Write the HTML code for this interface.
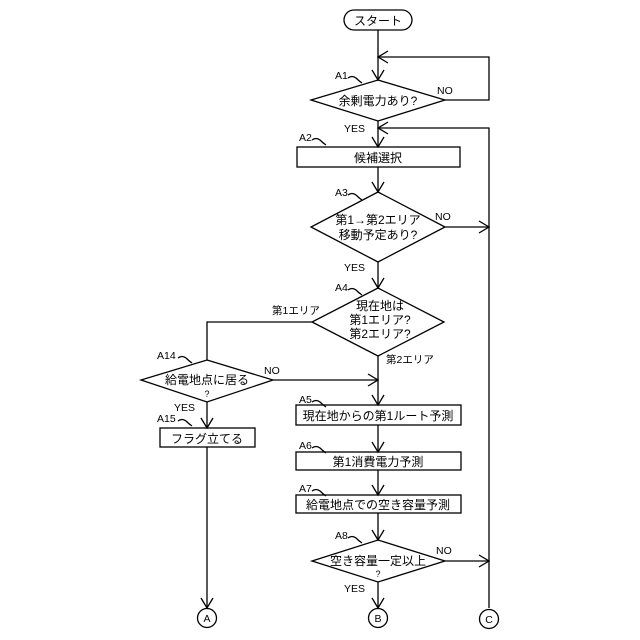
<!DOCTYPE html>
<html><head><meta charset="utf-8"><style>
html,body{margin:0;padding:0;background:#fff;}
svg{display:block;}
text{font-family:"Liberation Sans","Noto Sans CJK JP",sans-serif;fill:#000;}
</style></head><body>
<svg width="640" height="640" viewBox="0 0 640 640" xmlns="http://www.w3.org/2000/svg">
<g fill="none" stroke="#000" stroke-width="1.3">
<!-- start -->
<rect x="344" y="10" width="68" height="20" rx="10" ry="10"/>
<!-- main vertical segments -->
<line x1="378" y1="30" x2="378" y2="80"/>
<polyline points="378,57 489,57 489,100 445,100"/>
<polygon points="378,80 445,100 378,121 311,100"/>
<line x1="378" y1="121" x2="378" y2="147"/>
<polyline points="378,128 489,128 489,608"/>
<rect x="297" y="147" width="163" height="20"/>
<line x1="378" y1="167" x2="378" y2="192"/>
<polygon points="378,192 445,227 378,262 311,227"/>
<line x1="445" y1="227" x2="489" y2="227"/>
<line x1="378" y1="262" x2="378" y2="288"/>
<polygon points="378,288 444,322 378,356 312,322"/>
<polyline points="312,322 207,322 207,360"/>
<line x1="378" y1="356" x2="378" y2="405"/>
<polygon points="207,360 273,380 207,402 141,380"/>
<line x1="273" y1="380" x2="378" y2="380"/>
<line x1="207" y1="402" x2="207" y2="428"/>
<rect x="160" y="428" width="95" height="19"/>
<line x1="207" y1="447" x2="207" y2="608"/>
<rect x="296" y="405" width="165" height="20"/>
<line x1="378" y1="425" x2="378" y2="452"/>
<rect x="296" y="452" width="165" height="18"/>
<line x1="378" y1="470" x2="378" y2="495"/>
<rect x="296" y="495" width="165" height="18"/>
<line x1="378" y1="513" x2="378" y2="540"/>
<polygon points="378,540 445,561 378,582 312,561"/>
<line x1="445" y1="561" x2="489" y2="561"/>
<line x1="378" y1="582" x2="378" y2="608"/>
<circle cx="207" cy="618" r="9.5"/>
<circle cx="378" cy="618" r="9.5"/>
<circle cx="489" cy="619" r="9.5"/>
<!-- arrowheads (down) -->
<polyline points="372,70 378,80 384,70"/>
<polyline points="372,137 378,147 384,137"/>
<polyline points="372,182 378,192 384,182"/>
<polyline points="372,278 378,288 384,278"/>
<polyline points="372,395 378,405 384,395"/>
<polyline points="372,442 378,452 384,442"/>
<polyline points="372,485 378,495 384,485"/>
<polyline points="372,530 378,540 384,530"/>
<polyline points="372,598 378,608 384,598"/>
<polyline points="201,418 207,428 213,418"/>
<polyline points="201,598 207,608 213,598"/>
<!-- arrowheads (left) -->
<polyline points="388,51 378,57 388,63"/>
<polyline points="388,122 378,128 388,134"/>
<!-- arrowheads (right) -->
<polyline points="479,221 489,227 479,233"/>
<polyline points="368,374 378,380 368,386"/>
<polyline points="479,555 489,561 479,567"/>
<!-- label tildes -->
<path d="M348,78 q4,-3 8,0 q3,3 6,5"/>
<path d="M312,140 q4,-3 8,0 q3,3 6,5"/>
<path d="M348,195 q4,-3 8,0 q3,3 6,5"/>
<path d="M348,290 q4,-3 8,0 q3,3 6,5"/>
<path d="M178,358 q4,-3 8,0 q3,3 6,5"/>
<path d="M178,421 q4,-3 8,0 q3,3 6,5"/>
<path d="M312,402 q4,-3 8,0 q3,3 6,5"/>
<path d="M312,448 q4,-3 8,0 q3,3 6,5"/>
<path d="M312,491 q4,-3 8,0 q3,3 6,5"/>
<path d="M348,538 q4,-3 8,0 q3,3 6,5"/>
</g>
<g font-size="12">
<text x="378" y="25" text-anchor="middle">スタート</text>
<text x="378" y="105" text-anchor="middle">余剰電力あり?</text>
<text x="378" y="162" text-anchor="middle">候補選択</text>
<text x="378" y="224" text-anchor="middle">第1→第2エリア</text>
<text x="378" y="239" text-anchor="middle">移動予定あり?</text>
<text x="380" y="310" text-anchor="middle">現在地は</text>
<text x="380" y="324" text-anchor="middle">第1エリア?</text>
<text x="380" y="338" text-anchor="middle">第2エリア?</text>
<text x="207" y="384" text-anchor="middle">給電地点に居る</text>
<text x="207" y="443" text-anchor="middle">フラグ立てる</text>
<text x="378" y="420" text-anchor="middle">現在地からの第1ルート予測</text>
<text x="378" y="466" text-anchor="middle">第1消費電力予測</text>
<text x="378" y="509" text-anchor="middle">給電地点での空き容量予測</text>
<text x="378" y="565" text-anchor="middle">空き容量一定以上</text>
</g>
<g font-size="10.5">
<text x="335" y="79">A1</text>
<text x="299" y="141">A2</text>
<text x="335" y="196">A3</text>
<text x="335" y="291">A4</text>
<text x="157" y="359">A14</text>
<text x="157" y="422">A15</text>
<text x="299" y="403">A5</text>
<text x="299" y="449">A6</text>
<text x="299" y="492">A7</text>
<text x="335" y="539">A8</text>
<text x="437" y="94">NO</text>
<text x="344" y="132">YES</text>
<text x="435" y="220">NO</text>
<text x="344" y="271">YES</text>
<text x="272" y="314">第1エリア</text>
<text x="386" y="363">第2エリア</text>
<text x="264" y="374">NO</text>
<text x="174" y="411">YES</text>
<text x="436" y="554">NO</text>
<text x="344" y="592">YES</text>
<text x="207" y="397" text-anchor="middle" font-size="9">?</text>
<text x="378" y="577" text-anchor="middle" font-size="9">?</text>
<text x="207" y="622" text-anchor="middle">A</text>
<text x="378" y="622" text-anchor="middle">B</text>
<text x="489" y="623" text-anchor="middle">C</text>
</g>
</svg>
</body></html>
